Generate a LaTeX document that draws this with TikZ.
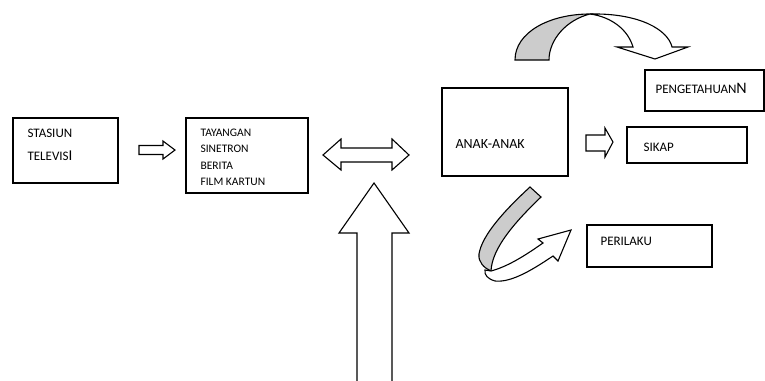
\documentclass[tikz,border=0pt]{standalone}
\usepackage{fontspec}
\setmainfont{Carlito}
\usepackage{tikz}

\begin{document}
\begin{tikzpicture}[x=1pt, y=-1pt, line width=1.1pt,
  box/.style={rectangle,draw,inner sep=0pt,outer sep=0pt},
  txt/.style={anchor=base west,inner sep=0pt,font=\fontsize{13}{15}\selectfont},
  small txt/.style={txt,font=\fontsize{11.5}{14}\selectfont},
  block/.style={draw,line join=miter,fill=white}]

\useasboundingbox (0,0) rectangle (765,380);

% boxes
\node[box, minimum width=105, minimum height=65] (stasiun) at (65.5,150.5) {};
\node[box, minimum width=122, minimum height=75] (tayangan) at (247,155.5) {};
\node[box, minimum width=126, minimum height=88] (anak) at (505,132) {};
\node[box, minimum width=119, minimum height=41] (pengetahuan) at (704.5,90.5) {};
\node[box, minimum width=120, minimum height=36] (sikap) at (687,145) {};
\node[box, minimum width=125, minimum height=42] (perilaku) at (649.5,246) {};

% texts
\node[txt] (stasiun1) at (27,137) {STASIUN};
\node[txt] (stasiun2) at (27,160) {TELEVIS{\fontsize{15}{15}\selectfont I}};
\node[small txt] (tay1) at (200,136) {TAYANGAN};
\node[small txt] (tay2) at (200,152) {SINETRON};
\node[small txt] (tay3) at (200,169) {BERITA};
\node[small txt] (tay4) at (200,185) {FILM KARTUN};
\node[txt, font=\fontsize{14}{16}\selectfont] (anak1) at (455,148) {ANAK-ANAK};
\node[txt] (peng1) at (655,93) {PENGETAHUAN{\fontsize{16}{16}\selectfont N}};
\node[txt] (sikap1) at (643,151) {SIKAP};
\node[txt] (peril1) at (600,245) {PERILAKU};

% straight block arrows
\draw[block] (139,145.5) -- (163,145.5) -- (163,141) -- (175,150) -- (163,159)
  -- (163,154.5) -- (139,154.5) -- cycle;
\draw[block] (323,155) -- (341,139) -- (341,148) -- (392,148) -- (392,139)
  -- (409,155) -- (392,170) -- (392,162) -- (341,162) -- (341,170) -- cycle;
\draw[block] (586,135) -- (605,135) -- (605,128) -- (613,142) -- (605,157)
  -- (605,151) -- (586,151) -- cycle;
\draw[line join=miter] (357,381) -- (357,233) -- (339,233) -- (374,183)
  -- (409,233) -- (392,233) -- (392,381);

% curved arrow to PENGETAHUANN
\draw[fill=gray!40] (515,60) .. controls (515,32) and (550,14) .. (590,14)
  .. controls (566,20) and (549,40) .. (549,60) -- cycle;
\draw[block] (590,14) .. controls (640,13) and (668,30) .. (672,47) -- (688,47)
  -- (655,59) -- (617,47) -- (633,47) .. controls (628,30) and (612,17) .. (590,14);

% curved arrow to PERILAKU
\draw[fill=gray!40] (530,187) -- (541,197) .. controls (515,222) and (492,248) .. (491,271)
  .. controls (484,268) and (478,262) .. (479,254)
  .. controls (482,235) and (505,210) .. (530,187) -- cycle;
\draw[block] (491,271) .. controls (510,266) and (530,252) .. (543,243) -- (538,239)
  -- (571,230) -- (558,261) -- (553,256) .. controls (535,268) and (512,283) .. (495,281)
  .. controls (488,279) and (484,275) .. (485,270) -- cycle;

\end{tikzpicture}
\end{document}
